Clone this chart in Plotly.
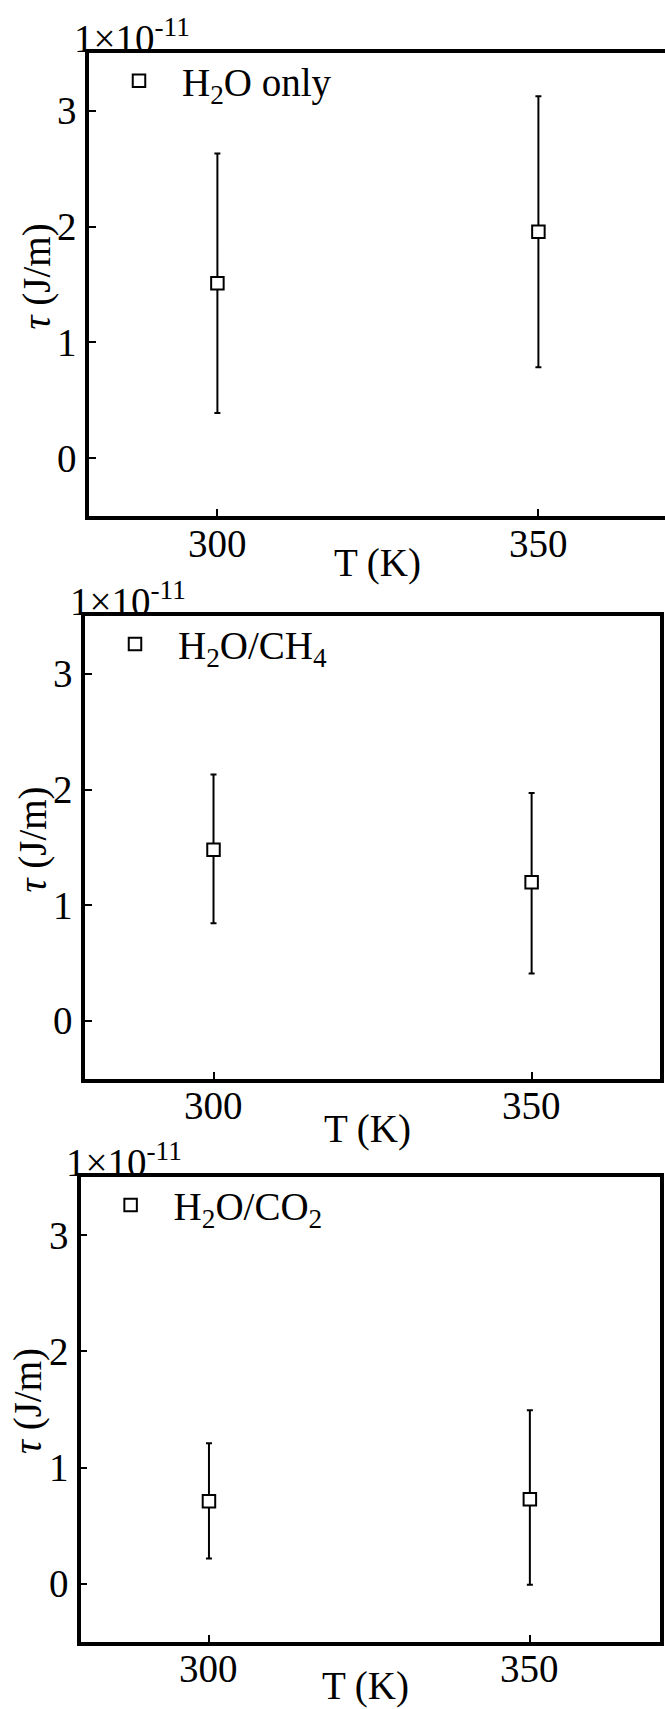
import plotly.graph_objects as go

W, H = 665, 1709

temps = [300, 350]
x_ticks = [300, 350]
y_ticks = [0, 1, 2, 3]

tau_h2o = [1.51, 1.955]
tau_h2o_up = [1.12, 1.17]
tau_h2o_dn = [1.12, 1.17]

tau_ch4 = [1.48, 1.20]
tau_ch4_up = [0.65, 0.77]
tau_ch4_dn = [0.635, 0.79]

tau_co2 = [0.71, 0.727]
tau_co2_up = [0.50, 0.767]
tau_co2_dn = [0.493, 0.737]

labels = ["H<sub>2</sub>O only", "H<sub>2</sub>O/CH<sub>4</sub>", "H<sub>2</sub>O/CO<sub>2</sub>"]

FONT = "Liberation Serif, Times New Roman, serif"
FS = 39

# panel frames in pixels: left, right, top, bottom
frames = [
    (89, 665, 52.8, 516.0),
    (85, 659.5, 616.1, 1078.8),
    (80.6, 659.5, 1177.1, 1641.8),
]
xranges = [[280, 280 + (665 - 89) / 6.42], [279.8, 370.1], [280, 370.2]]

series = [
    (tau_h2o, tau_h2o_up, tau_h2o_dn),
    (tau_ch4, tau_ch4_up, tau_ch4_dn),
    (tau_co2, tau_co2_up, tau_co2_dn),
]

xtitle_pos = [(377.5, 563.5), (367.5, 1128.5), (365, 1685.5)]

txt = dict(family=FONT, size=FS, color="black")

fig = go.Figure()
annotations = []
for i, (vals, up, dn) in enumerate(series):
    n = "" if i == 0 else str(i + 1)
    fig.add_trace(go.Scatter(
        x=temps, y=vals, mode="markers",
        name=labels[i],
        xaxis="x" + n, yaxis="y" + n,
        legend="legend" + n,
        marker=dict(symbol="square", size=12.5, color="white",
                    line=dict(color="black", width=2)),
        error_y=dict(type="data", array=up, arrayminus=dn, symmetric=False,
                     color="black", thickness=2, width=3),
        showlegend=True,
    ))
    l, r, t, b = frames[i]
    xd = [l / W, r / W]
    yd = [1 - b / H, 1 - t / H]
    axis_common = dict(showline=True, linewidth=3.5, linecolor="black",
                       ticks="inside", ticklen=7, tickwidth=2, tickcolor="black",
                       showgrid=False, zeroline=False, showticklabels=False)
    fig.layout["xaxis" + n] = dict(domain=xd, range=xranges[i], anchor="y" + n,
                                   tickvals=x_ticks, mirror=True, **axis_common)
    fig.layout["yaxis" + n] = dict(domain=yd, range=[-0.5, 3.5], anchor="x" + n,
                                   tickvals=y_ticks, mirror=(i != 0), **axis_common)
    # tick labels
    for xv in x_ticks:
        annotations.append(dict(
            text=str(xv), xref="x" + n, yref="paper",
            x=xv, y=1 - (b + 27) / H, xanchor="center", yanchor="middle",
            showarrow=False, font=txt,
        ))
    for yv in y_ticks:
        annotations.append(dict(
            text=str(yv), xref="paper", yref="y" + n,
            x=(l - 10) / W, y=yv, xanchor="right", yanchor="middle",
            showarrow=False, font=txt,
        ))
    # legend
    fig.layout["legend" + n] = dict(
        x=(l + 50 - 43) / W, y=1 - (t + 28) / H, xanchor="left", yanchor="middle",
        font=txt, bgcolor="rgba(0,0,0,0)", borderwidth=0, itemwidth=76,
    )
    # exponent label
    annotations.append(dict(
        text="1×10<sup>-11</sup>", xref="paper", yref="paper",
        x=(l - 17) / W, y=1 - (t - 17) / H, xanchor="left", yanchor="middle",
        showarrow=False, font=txt,
    ))
    # y title
    annotations.append(dict(
        text="<i>τ</i> (J/m)", xref="paper", yref="paper",
        x=(l - 52) / W, y=1 - ((t + b) / 2 - 8) / H, xanchor="center", yanchor="middle",
        textangle=-90, showarrow=False, font=txt,
    ))
    # x title
    xt, yt = xtitle_pos[i]
    annotations.append(dict(
        text="T (K)", xref="paper", yref="paper",
        x=xt / W, y=1 - yt / H, xanchor="center", yanchor="middle",
        showarrow=False, font=txt,
    ))

fig.update_layout(
    width=W, height=H, margin=dict(l=0, r=0, t=0, b=0),
    paper_bgcolor="white", plot_bgcolor="white",
    annotations=annotations,
    font=txt,
)

fig.write_html("out.html")
